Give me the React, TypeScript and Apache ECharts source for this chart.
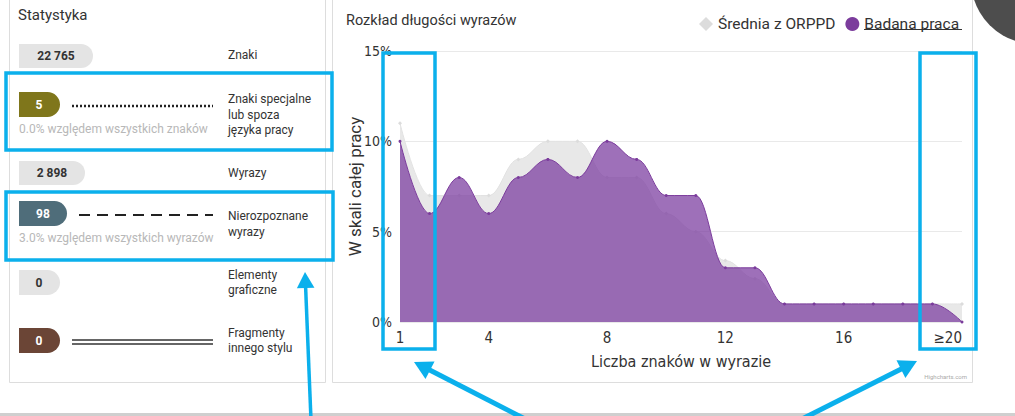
import React, { useEffect, useRef } from "react";
import * as echarts from "echarts";

const categories = ["1","2","3","4","5","6","7","8","9","10","11","12","13","14","15","16","17","18","19","≥20"];
const orppd = [11, 7, 7, 7, 9, 10, 10, 8, 8, 6, 5, 3.4, 2.4, 1, 1, 1, 1, 1, 1, 1];
const badana = [10, 6, 8, 6, 8, 9, 8, 10, 9, 7, 7, 3, 3, 1, 1, 1, 1, 1, 1, 0];
const shownTickIdx = [0, 3, 7, 11, 15, 19];

const statValues = ["22 765", "5", "2 898", "98", "0", "0"];
const statLabels = [["Znaki"], ["Znaki specjalne", "lub spoza", "języka pracy"], ["Wyrazy"], ["Nierozpoznane", "wyrazy"], ["Elementy", "graficzne"], ["Fragmenty", "innego stylu"]];
const statNotes = ["0.0% względem wszystkich znaków", "3.0% względem wszystkich wyrazów"];

const BLUE = "#0bb0ec";
const SANS = "Roboto, 'Noto Sans', sans-serif";
const NARROW = "'Liberation Sans Narrow', 'DejaVu Sans Condensed', sans-serif";

function arrow(x1: number, y1: number, x2: number, y2: number, w: number, head: number) {
  const dx = x2 - x1, dy = y2 - y1;
  const L = Math.hypot(dx, dy);
  const ux = dx / L, uy = dy / L;
  const bx = x2 - ux * head, by = y2 - uy * head;
  const px = -uy, py = ux;
  const hw = head * 0.55;
  return [
    { type: "line", z: 100, shape: { x1, y1, x2: bx + ux * 2, y2: by + uy * 2 }, style: { stroke: BLUE, lineWidth: w } },
    { type: "polygon", z: 100, shape: { points: [[x2, y2], [bx + px * hw, by + py * hw], [bx - px * hw, by - py * hw]] }, style: { fill: BLUE } },
  ];
}

function txt(text: string, x: number, y: number, size: number, fill: string, opts: any = {}) {
  return {
    type: "text", z: 50, x, y,
    style: { text, fill, fontSize: size, fontFamily: opts.family || SANS, fontWeight: opts.weight || "normal", align: opts.align || "left", verticalAlign: "middle" },
  };
}

function pill(x: number, y: number, w: number, h: number, color: string, value: string, textColor: string, cx: number) {
  return [
    { type: "rect", z: 40, shape: { x, y, width: w, height: h, r: [0, h / 2, h / 2, 0] }, style: { fill: color } },
    txt(value, cx, y + h / 2, 12, textColor, { weight: "bold", align: "center" }),
  ];
}

export default function App() {
  const ref = useRef<HTMLDivElement>(null);
  useEffect(() => {
    if (!ref.current) return;
    const chart = echarts.init(ref.current, null, { renderer: "svg" });
    const graphics: any[] = [];
    // panels
    graphics.push({ type: "rect", z: 1, shape: { x: 9.5, y: -5, width: 316, height: 387.5 }, style: { fill: "none", stroke: "#dddddd", lineWidth: 1 } });
    graphics.push({ type: "rect", z: 1, shape: { x: 332.5, y: -5, width: 640, height: 387.5 }, style: { fill: "none", stroke: "#dddddd", lineWidth: 1 } });
    // bottom bar
    graphics.push({ type: "rect", z: 1, shape: { x: 0, y: 413, width: 1015, height: 3 }, style: { fill: "#cfcfcf" } });
    // dark circle top right
    graphics.push({ type: "circle", z: 90, shape: { cx: 1035, cy: -20, r: 64 }, style: { fill: "#4d4d4d" } });
    // left panel
    graphics.push(txt("Statystyka", 18, 15, 15, "#333333"));
    graphics.push(...pill(19, 44, 74, 24, "#e4e4e4", statValues[0], "#333333", 56));
    graphics.push(...pill(19, 92, 41, 25, "#7f761b", statValues[1], "#ffffff", 39));
    graphics.push(...pill(19, 161, 66, 24, "#e4e4e4", statValues[2], "#333333", 52));
    graphics.push(...pill(19, 201, 48, 25, "#4f6d7a", statValues[3], "#ffffff", 43));
    graphics.push(...pill(19, 270, 41, 25, "#e4e4e4", statValues[4], "#333333", 39));
    graphics.push(...pill(19, 328, 41, 25, "#6b4536", statValues[5], "#ffffff", 39));
    const labelY = [[55], [99, 115, 130], [173], [216, 232], [275, 290], [333, 348]];
    statLabels.forEach((lines, i) => lines.forEach((l, j) => graphics.push(txt(l, 228, labelY[i][j], 12, "#333333"))));
    graphics.push(txt(statNotes[0], 19, 129, 12, "#b8b8b8"));
    graphics.push(txt(statNotes[1], 19, 238, 12, "#b8b8b8"));
    graphics.push({ type: "line", z: 40, shape: { x1: 72, y1: 106, x2: 213, y2: 106 }, style: { stroke: "#222222", lineWidth: 2.5, lineDash: [2, 2] } });
    graphics.push({ type: "line", z: 40, shape: { x1: 79, y1: 215, x2: 213, y2: 215 }, style: { stroke: "#222222", lineWidth: 2, lineDash: [11, 7] } });
    graphics.push({ type: "line", z: 40, shape: { x1: 72, y1: 340, x2: 213, y2: 340 }, style: { stroke: "#333333", lineWidth: 1.5 } });
    graphics.push({ type: "line", z: 40, shape: { x1: 72, y1: 344, x2: 213, y2: 344 }, style: { stroke: "#333333", lineWidth: 1.5 } });
    // right panel title
    graphics.push(txt("Rozkład długości wyrazów", 346, 20, 14.5, "#333333"));
    graphics.push({ type: "line", z: 50, shape: { x1: 864, y1: 29.5, x2: 962, y2: 29.5 }, style: { stroke: "#333333", lineWidth: 1 } });
    graphics.push(txt("Highcharts.com", 967, 376, 6, "#aaaaaa", { align: "right" }));
    // blue annotation boxes
    const box = (x: number, y: number, w: number, h: number) => ({ type: "rect", z: 100, shape: { x, y, width: w, height: h }, style: { fill: "none", stroke: BLUE, lineWidth: 3.5 } });
    graphics.push(box(6, 73, 326, 77));
    graphics.push(box(6, 192, 327, 68));
    graphics.push(box(383, 53, 52, 296));
    graphics.push(box(920, 53, 56, 296));
    graphics.push(...arrow(311, 420, 305, 272, 3.5, 16));
    graphics.push(...arrow(527, 420, 414, 362, 5, 18));
    graphics.push(...arrow(800, 420, 917, 361, 5, 18));

    chart.setOption({
      animation: false,
      backgroundColor: "#ffffff",
      textStyle: { fontFamily: SANS },
      legend: {
        left: 694, top: 11, itemWidth: 14, itemHeight: 14, itemGap: 10,
        textStyle: { fontSize: 15.5, color: "#333333", fontFamily: SANS },
        data: [{ name: "Średnia z ORPPD", icon: "diamond" }, { name: "Badana praca", icon: "circle" }],
      },
      grid: { left: 400, right: 53, top: 51, bottom: 94, containLabel: false },
      xAxis: {
        type: "category", data: categories, boundaryGap: false,
        name: "Liczba znaków w wyrazie", nameLocation: "middle", nameGap: 31,
        nameTextStyle: { fontSize: 16, color: "#333333", fontFamily: NARROW },
        axisLine: { show: false }, axisTick: { show: false },
        axisLabel: { interval: (i: number) => shownTickIdx.includes(i), margin: 8, fontSize: 15, color: "#333333", fontFamily: NARROW, alignMaxLabel: "right" },
        splitLine: { show: false },
      },
      yAxis: {
        type: "value", min: 0, max: 15, interval: 5,
        name: "W skali całej pracy", nameLocation: "middle", nameGap: 37, nameRotate: 90, nameMoveOverlap: false,
        nameTextStyle: { fontSize: 17, color: "#333333", fontFamily: SANS },
        axisLabel: { formatter: "{value}%", margin: 8, fontSize: 14, color: "#333333", fontFamily: NARROW },
        splitLine: { lineStyle: { color: "#e9e9e9", width: 1 } },
        axisLine: { show: false }, axisTick: { show: false },
      },
      series: [
        {
          name: "Średnia z ORPPD", type: "line", data: orppd, smooth: 0.4, smoothMonotone: "x",
          symbol: "diamond", symbolSize: 4, showSymbol: true,
          itemStyle: { color: "#dcdcdc" }, lineStyle: { color: "#e2e2e2", width: 1 },
          areaStyle: { color: "#e8e8e8", opacity: 1 }, z: 2,
        },
        {
          name: "Badana praca", type: "line", data: badana, smooth: 0.4, smoothMonotone: "x",
          symbol: "circle", symbolSize: 3, showSymbol: true,
          itemStyle: { color: "#7b3c9c" }, lineStyle: { color: "#7b3c9c", width: 1 },
          areaStyle: { color: "rgba(124,62,160,0.74)", opacity: 1 }, z: 3,
        },
      ],
      graphic: { elements: graphics },
    });
    return () => chart.dispose();
  }, []);
  return <div ref={ref} style={{ position: "absolute", left: 0, top: 0, width: 1015, height: 416 }} />;
}
